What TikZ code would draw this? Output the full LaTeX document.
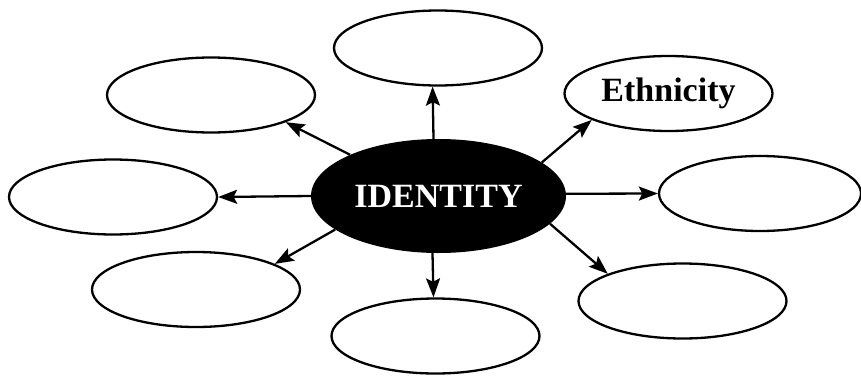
\documentclass[tikz,border=0pt]{standalone}
\usepackage{fontspec}
\setmainfont{Liberation Serif}
\usetikzlibrary{arrows.meta,shapes.geometric}
\tikzset{
  leaf/.style={ellipse, draw=black, line width=2.3pt, fill=white, inner sep=0pt,
    minimum width=208pt, minimum height=75pt,
    font=\fontsize{34}{40}\selectfont\bfseries},
  hub/.style={ellipse, fill=black, inner sep=0pt, minimum width=255pt, minimum height=114pt,
    text=white, font=\fontsize{34}{40}\selectfont\bfseries},
  arr/.style={line width=2.3pt, -{Stealth[length=19pt,width=14pt,inset=3.5pt]}}
}
\begin{document}
\begin{tikzpicture}[x=1pt,y=-1pt]
\useasboundingbox (0,0) rectangle (861,375);
\node[hub] (c) at (438.5,196) {IDENTITY};
\node[leaf] (t) at (438,48) {};
\node[leaf] (tl) at (211,95) {};
\node[leaf] (eth) at (668.5,93.5) {Ethnicity};
\node[leaf] (l) at (113,197) {};
\node[leaf, minimum width=202pt] (r) at (760,193.5) {};
\node[leaf] (bl) at (196,289.5) {};
\node[leaf] (b) at (435.5,336) {};
\node[leaf] (br) at (682.5,301) {};
\draw[arr] (c.95.5) -- (t.262.7);
\draw[arr] (c.155.6) -- (tl.340.9);
\draw[arr] (c.18.4) -- (eth.199.7);
\draw[arr] (c.1.3) -- (r.180);
\draw[arr] (c.180) -- (l.0);
\draw[arr] (c.198.4) -- (bl.18.4);
\draw[arr] (c.264.5) -- (b.93);
\draw[arr] (c.346.6) -- (br.160.3);
\end{tikzpicture}
\end{document}
